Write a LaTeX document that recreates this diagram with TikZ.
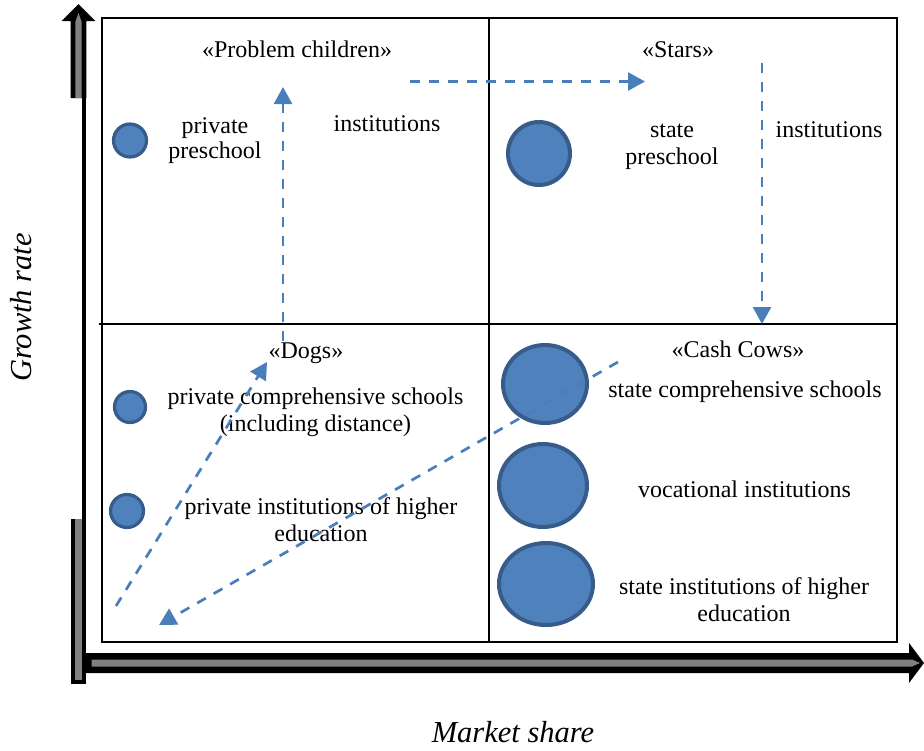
\documentclass[tikz,border=0pt]{standalone}
\usepackage{fontspec}
\setmainfont{Liberation Serif}
\usetikzlibrary{arrows.meta,shapes.geometric}
\definecolor{bubble}{HTML}{4F81BD}
\definecolor{bubbleedge}{HTML}{375C89}
\definecolor{flow}{HTML}{4A7EBB}
\definecolor{axisgray}{HTML}{808080}
\begin{document}
\begin{tikzpicture}[x=1pt,y=-1pt,
  lbl/.style={font=\fontsize{24}{27}\selectfont, inner sep=0pt, anchor=base},
  axlbl/.style={font=\fontsize{30.5}{34}\selectfont\itshape, inner sep=0pt, anchor=base},
  bub/.style={ellipse, draw=bubbleedge, fill=bubble, line width=3.2pt, inner sep=0pt},
  bigbub/.style={bub, line width=4pt},
  flowarrow/.style={draw=flow, line width=2.7pt, dash pattern=on 10pt off 9pt,
    -{Triangle[length=17pt,width=18pt]}},
  gridline/.style={line width=1.5pt}]
\useasboundingbox (0,0) rectangle (924,750);

% axes
\fill[black] (70.7,98) -- (70.7,21) -- (61.7,21) -- (78.5,4) -- (95.3,21) -- (86.3,21) -- (86.3,98) -- cycle;
\fill[axisgray] (75.3,98) -- (75.3,22) -- (78.5,13) -- (81.7,22) -- (81.7,98) -- cycle;
\fill[black] (82,98) rectangle (86.3,520);
\fill[black] (70.7,519) rectangle (86.3,684);
\fill[axisgray] (75.3,519) rectangle (81.7,680);
\fill[black] (86,653) -- (909,653) -- (909,643) -- (924,663) -- (909,683) -- (909,673) -- (86,673) -- cycle;
\fill[axisgray] (91.7,659.5) -- (912,659.5) -- (920,663) -- (912,666.5) -- (91.7,666.5) -- cycle;

% grid
\draw[gridline] (102,18) rectangle (897,642);
\draw[gridline] (489,18) -- (489,642);
\draw[gridline] (99,324) -- (897,324);

% bubbles
\node[bub, minimum width=33pt, minimum height=33pt] (c1) at (130,140.5) {};
\node[bigbub, minimum width=62pt, minimum height=63pt] (c2) at (539,153.5) {};
\node[bub, minimum width=31pt, minimum height=31pt] (c3) at (130,407) {};
\node[bub, minimum width=33pt, minimum height=33pt] (c4) at (127,511) {};
\node[bigbub, minimum width=84pt, minimum height=78pt] (c5) at (545,384) {};
\node[bigbub, minimum width=88pt, minimum height=83pt] (c6) at (543,485.5) {};
\node[bigbub, minimum width=94pt, minimum height=82pt] (c7) at (546,584) {};

% labels
\node[lbl] (qpc) at (297,57) {«Problem children»};
\node[lbl] (qst) at (678,57) {«Stars»};
\node[lbl] (qdg) at (306,358) {«Dogs»};
\node[lbl] (qcc) at (738,357) {«Cash Cows»};
\node[lbl] (t1a) at (215,133) {private};
\node[lbl] (t1b) at (215,158) {preschool};
\node[lbl] (t2) at (387,131) {institutions};
\node[lbl] (t3a) at (672,137) {state};
\node[lbl] (t3b) at (672,164) {preschool};
\node[lbl] (t4) at (829,137) {institutions};
\node[lbl] (t5a) at (315.5,404) {private comprehensive schools};
\node[lbl] (t5b) at (315.5,431) {(including distance)};
\node[lbl] (t6a) at (321,514) {private institutions of higher};
\node[lbl] (t6b) at (321,541) {education};
\node[lbl] (t7) at (745,397) {state comprehensive schools};
\node[lbl] (t8) at (744.5,497) {vocational institutions};
\node[lbl] (t9a) at (744,594) {state institutions of higher};
\node[lbl] (t9b) at (744,621) {education};
\node[axlbl] (xl) at (513,742) {Market share};
\node[axlbl, rotate=90] (yl) at (31.5,307.5) {Growth rate};

% flow arrows
\coordinate (a1s) at (283,341);
\coordinate (a1e) at (283,87);
\coordinate (a2s) at (410,81.5);
\coordinate (a2e) at (645,81.5);
\coordinate (a3s) at (762,63);
\coordinate (a3e) at (762,324);
\coordinate (a4s) at (116,606);
\coordinate (a4e) at (267,362);
\coordinate (a5s) at (618,362);
\coordinate (a5e) at (159,625);
\draw[flowarrow] (a1s) -- (a1e);
\draw[flowarrow] (a2s) -- (a2e);
\draw[flowarrow] (a3s) -- (a3e);
\draw[flowarrow] (a4s) -- (a4e);
\draw[flowarrow] (a5s) -- (a5e);
\end{tikzpicture}
\end{document}
